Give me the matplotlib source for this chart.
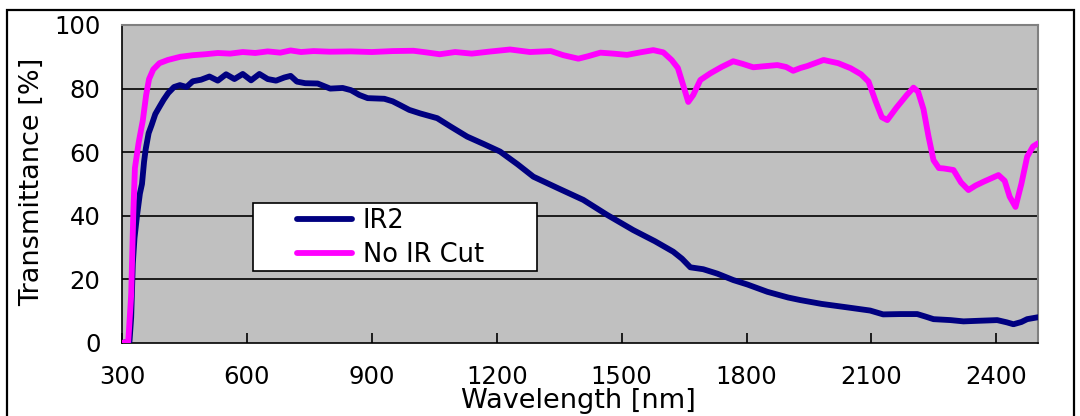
import matplotlib
matplotlib.use("Agg")
import matplotlib.pyplot as plt
from matplotlib.patches import Rectangle

# ---- data ----
wl_noir = [300, 315, 322, 327, 331, 340, 350, 358, 365, 375, 390, 410, 440, 470, 500, 530, 560,
           590, 620, 650, 680, 705, 730, 760, 800, 850, 900, 950, 1000, 1030, 1063, 1100, 1140,
           1180, 1232, 1280, 1330, 1360, 1396, 1420, 1449, 1480, 1513, 1545, 1576, 1600, 1620,
           1635, 1648, 1660, 1672, 1689, 1713, 1740, 1768, 1790, 1816, 1840, 1874, 1895, 1912,
           1930, 1946, 1985, 2020, 2050, 2075, 2093, 2110, 2125, 2138, 2160, 2185, 2201, 2212,
           2225, 2237, 2249, 2262, 2273, 2297, 2315, 2333, 2350, 2369, 2405, 2420, 2432, 2446,
           2460, 2474, 2488, 2500]
t_noir = [0, 0.5, 15, 40, 55, 63, 70, 78, 83, 86, 88, 89, 90, 90.5, 90.8, 91.2, 91.0,
          91.5, 91.2, 91.7, 91.3, 92.0, 91.5, 91.8, 91.6, 91.7, 91.5, 91.8, 91.9, 91.4, 90.8, 91.5, 91.0,
          91.6, 92.3, 91.5, 91.8, 90.5, 89.4, 90.2, 91.3, 91.0, 90.6, 91.4, 92.1, 91.4, 89.0,
          86.5, 81.0, 75.8, 78.0, 82.7, 84.8, 86.8, 88.6, 87.8, 86.7, 87.0, 87.4, 86.8, 85.6,
          86.5, 87.1, 89.0, 88.0, 86.4, 84.5, 82.2, 76.0, 71.0, 70.1, 74.0, 78.0, 80.3, 79.0,
          73.5, 65.0, 57.5, 55.0, 54.9, 54.4, 50.5, 48.1, 49.5, 50.7, 52.8, 51.0, 46.0, 42.8,
          50.0, 58.6, 61.8, 62.8]

wl_ir2 = [300, 318, 322, 326, 330, 336, 343, 348, 353, 357, 364, 371, 380, 391, 400, 411, 425,
          439, 455, 470, 490, 510, 530, 550, 570, 590, 610, 630, 650, 670, 690, 705, 720, 740,
          770, 800, 830, 850, 870, 890, 930, 950, 968, 990, 1016, 1057, 1090, 1129, 1170, 1208,
          1250, 1288, 1350, 1408, 1465, 1528, 1580, 1624, 1645, 1665, 1696, 1730, 1768, 1802,
          1850, 1900, 1929, 1980, 2042, 2097, 2128, 2170, 2210, 2230, 2249, 2290, 2321, 2360,
          2402, 2425, 2441, 2460, 2474, 2500]
t_ir2 = [0, 0.5, 8, 25, 33, 40, 47, 50, 57, 61, 66, 68.5, 72, 74.5, 76.5, 78.6, 80.5,
         81.1, 80.5, 82.3, 82.8, 83.8, 82.5, 84.5, 83.0, 84.6, 82.6, 84.6, 83.0, 82.5, 83.5, 84.0, 82.2, 81.7,
         81.6, 80.0, 80.2, 79.5, 78.0, 77.0, 76.8, 76.0, 74.8, 73.3, 72.2, 70.7, 68.0, 64.9, 62.5, 60.2,
         56.2, 52.3, 48.5, 45.0, 40.3, 35.5, 32.0, 28.7, 26.5, 23.8, 23.2, 21.8, 19.8, 18.4,
         16.1, 14.3, 13.5, 12.3, 11.2, 10.2, 9.0, 9.1, 9.1, 8.3, 7.5, 7.2, 6.8, 7.0,
         7.2, 6.5, 5.9, 6.6, 7.5, 8.1]

series_names = ["IR2", "No IR Cut"]
x_ticks = [300, 600, 900, 1200, 1500, 1800, 2100, 2400]
y_ticks = [0, 20, 40, 60, 80, 100]

plt.rcParams['font.family'] = ['DejaVu Sans']

W, H = 1080, 416
fig = plt.figure(figsize=(W / 100, H / 100), dpi=100)
fig.patch.set_facecolor('white')

# outer frame (bottom edge lies below the picture)
fig.patches.append(Rectangle((7 / W, -0.2), (1074 - 7) / W, 1.2 - 10 / H,
                             transform=fig.transFigure, fill=False, edgecolor='black',
                             linewidth=1.6, clip_on=False))

ax_l, ax_r, ax_t, ax_b = 122, 1038, 25, 343
ax = fig.add_axes([ax_l / W, (H - ax_b) / H, (ax_r - ax_l) / W, (ax_b - ax_t) / H])
ax.set_facecolor('#C0C0C0')
ax.set_xlim(300, 2500)
ax.set_ylim(0, 100)

def axx(px):
    return (px - ax_l) / (ax_r - ax_l)

def axy(py):
    return (ax_b - py) / (ax_b - ax_t)

for yv in y_ticks[1:-1]:
    ax.axhline(yv, color='black', linewidth=1.2, zorder=1)

ax.plot(wl_ir2, t_ir2, color='#000080', linewidth=4.2, label=series_names[0],
        solid_joinstyle='round', solid_capstyle='round', zorder=3)
ax.plot(wl_noir, t_noir, color='#FF00FF', linewidth=4.2, label=series_names[1],
        solid_joinstyle='round', solid_capstyle='round', zorder=3)

ax.set_xticks(x_ticks)
ax.set_yticks(y_ticks)
ax.tick_params(axis='x', direction='in', length=7.5, width=1.2, pad=16, labelsize=17.5,
               colors='black')
ax.tick_params(axis='y', length=0, pad=15.5, labelsize=17.5)

for s in ['left', 'bottom']:
    ax.spines[s].set_color('black')
    ax.spines[s].set_linewidth(1.2)
for s in ['top', 'right']:
    ax.spines[s].set_color('#808080')
    ax.spines[s].set_linewidth(1.5)

ax.set_xlabel('Wavelength [nm]', fontsize=19.5)
ax.xaxis.label.set_va('baseline')
ax.xaxis.set_label_coords(axx(578), axy(408))
ax.set_ylabel('Transmittance [%]', fontsize=19.5)
ax.yaxis.label.set_va('center')
ax.yaxis.set_label_coords(axx(32), axy(182))

# legend frame
ax.add_patch(Rectangle((axx(253), axy(271)), axx(537) - axx(253), axy(203) - axy(271),
                       transform=ax.transAxes, facecolor='white', edgecolor='black',
                       linewidth=1.2, zorder=4, clip_on=False))
leg = ax.legend(loc='upper left', bbox_to_anchor=(axx(297), axy(208)), fontsize=18.5,
                frameon=False, handlelength=2.15, handletextpad=0.4, borderpad=0,
                labelspacing=0.33, borderaxespad=0)
leg.set_zorder(5)
for ln in leg.get_lines():
    ln.set_linewidth(4.2)

fig.savefig('out.png', dpi=100)
